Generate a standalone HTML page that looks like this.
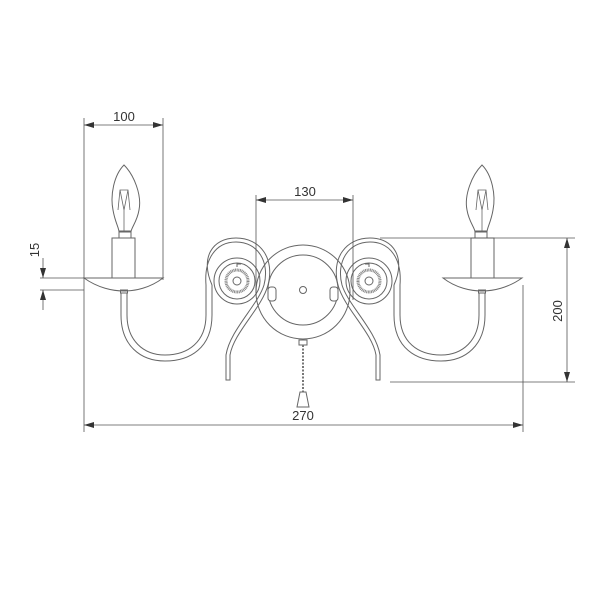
<!DOCTYPE html>
<html><head><style>html,body{margin:0;padding:0;background:#fff;width:600px;height:600px;overflow:hidden}</style></head>
<body>
<svg width="600" height="600" viewBox="0 0 600 600" xmlns="http://www.w3.org/2000/svg" font-family="Liberation Sans, sans-serif">
<defs>
<marker id="a" viewBox="0 0 10 6" refX="10" refY="3" markerWidth="10" markerHeight="6" orient="auto-start-reverse" markerUnits="userSpaceOnUse"><path d="M0,0 L10,3 L0,6 z" fill="#333"/></marker>
<g id="lamp" fill="none" stroke="#666" stroke-width="1">
  <path d="M124,165 C114,175 110,195 113,210 C115,222 119,228 119,232 L131,232 C131,228 137,222 139,210 C142,195 134,175 124,165 Z"/>
  <path d="M118,210 L120,190 L128,190 L130,210 M120,190 L124,210 L128,190 M124,210 L124,231" stroke-width="0.8"/>
  <rect x="119" y="231" width="12" height="7"/>
  <rect x="112" y="238" width="23" height="40"/>
  <path d="M84,278 L163,278 C150,288 135,291 124,291 C113,291 98,288 84,278 Z"/>
  <rect x="120.5" y="290" width="7" height="3"/>
  <path d="M121,293 L121,315 C121,345 140,361 165,361 C190,361 212,348 212,315 L212,285"/>
  <path d="M127,293 L127,315 C127,340 143,355 165,355 C188,355 206,342 206,315 L206,285"/>
  <path d="M206,285 C204,260 215,242 236,242 C258,242 270,262 264,285 C258,305 230,330 226,355 L226,380 L230,380 L230,355 C234,332 262,308 268,285 C275,258 260,238 236,238 C212,238 200,258 212,285"/>
  <circle cx="237" cy="281" r="23"/>
  <circle cx="237" cy="281" r="18"/>
  <circle cx="237" cy="281" r="11" stroke-dasharray="1 0.6" stroke-width="3" stroke="#888"/>
  <circle cx="237" cy="281" r="4" fill="#fff"/>
  <path d="M237,267 L237,264 L241,264"/>
</g>
</defs>
<use href="#lamp"/>
<use href="#lamp" transform="translate(606,0) scale(-1,1)"/>
<g fill="none" stroke="#666">
  <circle cx="303" cy="292" r="47"/>
  <circle cx="303" cy="290" r="35"/>
  <circle cx="303" cy="290" r="3.5"/>
  <rect x="268" y="287" width="8" height="14" rx="3" fill="#fff"/>
  <rect x="330" y="287" width="8" height="14" rx="3" fill="#fff"/>
  <rect x="299" y="340" width="8" height="5"/>
  <path d="M303,345 L303,392" stroke-dasharray="2 1.5" stroke-width="2" stroke="#777"/>
  <path d="M300,392 L306,392 L309,407 L297,407 Z"/>
</g>
<g stroke="#555" stroke-width="0.8" fill="none">
  <line x1="84" y1="118" x2="84" y2="432"/>
  <line x1="163" y1="118" x2="163" y2="280"/>
  <line x1="84" y1="125" x2="163" y2="125" marker-start="url(#a)" marker-end="url(#a)"/>
  <line x1="256" y1="195" x2="256" y2="295"/>
  <line x1="353" y1="195" x2="353" y2="300"/>
  <line x1="256" y1="200" x2="353" y2="200" marker-start="url(#a)" marker-end="url(#a)"/>
  <line x1="523" y1="285" x2="523" y2="432"/>
  <line x1="84" y1="425" x2="523" y2="425" marker-start="url(#a)" marker-end="url(#a)"/>
  <line x1="380" y1="238" x2="575" y2="238"/>
  <line x1="390" y1="382" x2="575" y2="382"/>
  <line x1="567" y1="238" x2="567" y2="382" marker-start="url(#a)" marker-end="url(#a)"/>
  <line x1="40" y1="278" x2="84" y2="278"/>
  <line x1="40" y1="290" x2="84" y2="290"/>
  <line x1="43" y1="258" x2="43" y2="278" marker-end="url(#a)"/>
  <line x1="43" y1="310" x2="43" y2="290" marker-end="url(#a)"/>
</g>
<g fill="#333" font-size="13">
  <text x="124" y="121" text-anchor="middle">100</text>
  <text x="305" y="196" text-anchor="middle">130</text>
  <text x="303" y="420" text-anchor="middle">270</text>
  <text transform="translate(562,311) rotate(-90)" text-anchor="middle">200</text>
  <text transform="translate(39,250) rotate(-90)" text-anchor="middle">15</text>
</g>
</svg>
</body></html>
